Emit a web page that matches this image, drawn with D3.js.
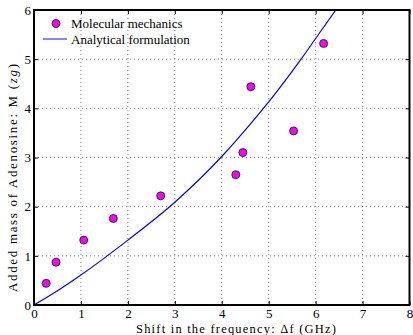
<!DOCTYPE html>
<html><head><meta charset="utf-8">
<script src="https://cdn.jsdelivr.net/npm/d3@7"></script>
<style>body{margin:0;background:#fff}svg{display:block}text{font-family:"Liberation Serif","DejaVu Serif",serif}</style>
</head><body>
<svg id="c" width="413" height="335"></svg>
<script>
// Molecular mechanics points
const mmX = [0.26, 0.47, 1.06, 1.69, 2.70, 4.30, 4.45, 4.62, 5.53, 6.17];
const mmY = [0.44, 0.87, 1.32, 1.76, 2.22, 2.65, 3.10, 4.44, 3.54, 5.32];
// Analytical formulation curve
const anX = [0, 0.5, 1, 2, 3, 4, 4.68, 5, 5.69, 6, 6.43];
const anY = [0, 0.29, 0.61, 1.32, 2.09, 3.02, 3.76, 4.13, 5.0, 5.42, 6.0];
const xTicks = [0,1,2,3,4,5,6,7,8];
const yTicks = [0,1,2,3,4,5,6];
const legendLabels = ["Molecular mechanics","Analytical formulation"];

const L=34, R=409.5, T=10, B=305;
const svg = d3.select("#c");
const x = d3.scaleLinear().domain([0,8]).range([L,R]);
const y = d3.scaleLinear().domain([0,6]).range([B,T]);

// grid
const g = svg.append("g");
g.selectAll(".gx").data(xTicks.slice(1,-1)).enter().append("line")
 .attr("x1",d=>x(d)).attr("x2",d=>x(d)).attr("y1",T).attr("y2",B)
 .attr("stroke","#666").attr("stroke-width",0.8).attr("stroke-dasharray","1,3");
g.selectAll(".gy").data(yTicks.slice(1,-1)).enter().append("line")
 .attr("y1",d=>y(d)).attr("y2",d=>y(d)).attr("x1",L).attr("x2",R)
 .attr("stroke","#666").attr("stroke-width",0.8).attr("stroke-dasharray","1,3");

// axes with inner ticks
const tl = 4;
svg.append("g").attr("transform",`translate(0,${B})`)
 .call(d3.axisBottom(x).tickValues(xTicks).tickSize(-tl).tickPadding(4).tickFormat(d3.format("d")))
 .call(a=>{a.select(".domain").remove();a.selectAll("text").attr("font-size",13).attr("fill","#000");});
svg.append("g").attr("transform",`translate(0,${T})`)
 .call(d3.axisTop(x).tickValues(xTicks).tickSize(-tl).tickFormat(""))
 .call(a=>a.select(".domain").remove());
svg.append("g").attr("transform",`translate(${L},0)`)
 .call(d3.axisLeft(y).tickValues(yTicks).tickSize(-tl).tickPadding(3).tickFormat(d3.format("d")))
 .call(a=>{a.select(".domain").remove();a.selectAll("text").attr("font-size",13).attr("fill","#000");});
svg.append("g").attr("transform",`translate(${R},0)`)
 .call(d3.axisRight(y).tickValues(yTicks).tickSize(-tl).tickFormat(""))
 .call(a=>a.select(".domain").remove());
svg.selectAll(".tick line").attr("stroke","#000").attr("stroke-width",1);

// clip
svg.append("clipPath").attr("id","clip").append("rect").attr("x",L).attr("y",T).attr("width",R-L).attr("height",B-T);

// curve
const line = d3.line().x(d=>x(d[0])).y(d=>y(d[1])).curve(d3.curveMonotoneX);
svg.append("path").datum(anX.map((v,i)=>[v,anY[i]])).attr("d",line)
 .attr("fill","none").attr("stroke","#0000ff").attr("stroke-width",1.2).attr("clip-path","url(#clip)");

// points
svg.selectAll(".pt").data(mmX.map((v,i)=>[v,mmY[i]])).enter().append("circle")
 .attr("cx",d=>x(d[0])).attr("cy",d=>y(d[1])).attr("r",4)
 .attr("fill","#ff00ff").attr("stroke","#222").attr("stroke-width",0.9);

// frame
svg.append("rect").attr("x",L).attr("y",T).attr("width",R-L).attr("height",B-T)
 .attr("fill","none").attr("stroke","#000").attr("stroke-width",2);

// legend
const lg = svg.append("g");
lg.append("circle").attr("cx",56).attr("cy",23.5).attr("r",4).attr("fill","#ff00ff").attr("stroke","#222").attr("stroke-width",0.9);
lg.append("line").attr("x1",43).attr("x2",67).attr("y1",39).attr("y2",39).attr("stroke","#3333ff").attr("stroke-width",1.2);
lg.selectAll("text").data(legendLabels).enter().append("text")
 .attr("x",71).attr("y",(d,i)=>28+i*15.5).attr("font-size",13).text(d=>d);

// axis titles
const xt = svg.append("text").attr("x",236).attr("y",332.5).attr("text-anchor","middle").attr("font-size",12.5)
 .attr("textLength",200).attr("lengthAdjust","spacing");
xt.text("Shift in the frequency: Δf (GHz)");
const yt = svg.append("text").attr("transform","translate(17,178) rotate(-90)").attr("text-anchor","middle").attr("font-size",13)
 .attr("textLength",228).attr("lengthAdjust","spacing");
yt.append("tspan").text("Added mass of Adenosine: M (");
yt.append("tspan").attr("font-style","italic").text("zg");
yt.append("tspan").text(")");
</script>
</body></html>
